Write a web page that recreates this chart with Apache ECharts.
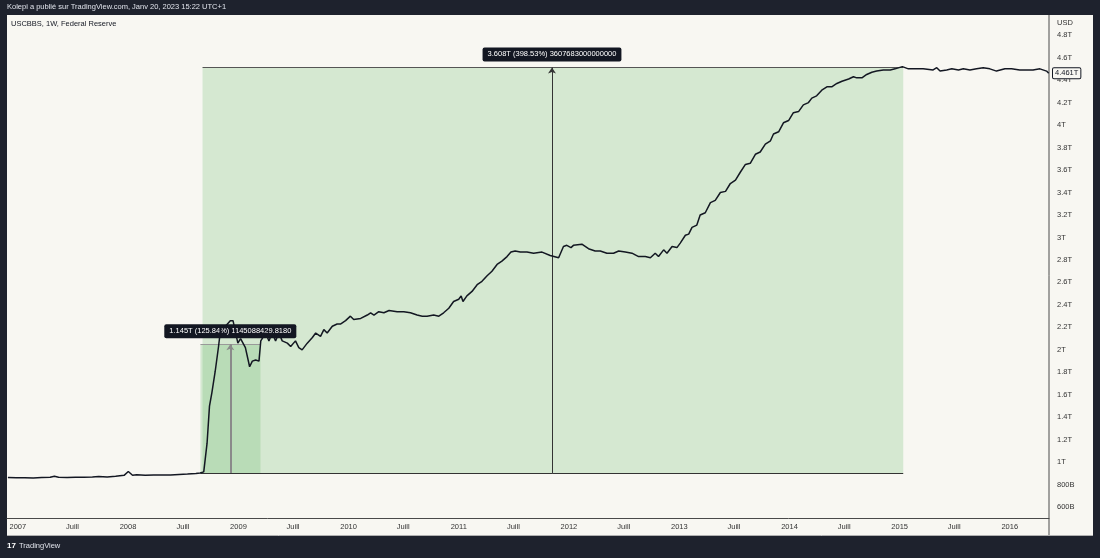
<!DOCTYPE html>
<html>
<head>
<meta charset="utf-8">
<script src="https://cdn.jsdelivr.net/npm/echarts@6/dist/echarts.min.js"></script>
<style>
  html, body { margin: 0; padding: 0; background: #1e222d; }
  #chart { width: 1100px; height: 558px; }
</style>
</head>
<body>
<div id="chart"></div>
<script>
// weekly USCBBS readings (trillions USD)
const dates = [
  '2006-11-29','2006-12-27','2007-01-24','2007-02-21','2007-03-21','2007-04-18','2007-05-02','2007-05-16',
  '2007-06-13','2007-07-11','2007-08-08','2007-09-05','2007-09-26','2007-10-24','2007-11-21','2007-12-19',
  '2008-01-02','2008-01-16','2008-01-30','2008-02-27','2008-03-26','2008-04-23','2008-05-21','2008-06-18',
  '2008-07-16','2008-08-13','2008-08-27','2008-09-08','2008-09-19','2008-09-27','2008-10-05','2008-10-16',
  '2008-10-27','2008-11-04','2008-11-15','2008-12-05','2008-12-14','2008-12-30','2009-01-08','2009-01-24',
  '2009-02-07','2009-02-16','2009-02-27','2009-03-10','2009-03-16','2009-04-01','2009-04-12','2009-04-23',
  '2009-05-04','2009-05-15','2009-05-26','2009-06-12','2009-06-23','2009-07-09','2009-07-20','2009-07-31',
  '2009-08-17','2009-09-03','2009-09-14','2009-09-30','2009-10-11','2009-10-22','2009-11-08','2009-11-24',
  '2009-12-05','2009-12-22','2010-01-07','2010-01-18','2010-02-10','2010-03-04','2010-03-15','2010-03-26',
  '2010-04-11','2010-04-28','2010-05-15','2010-06-11','2010-07-03','2010-07-25','2010-08-16','2010-09-02',
  '2010-09-18','2010-10-10','2010-10-27','2010-11-12','2010-11-29','2010-12-15','2011-01-01','2011-01-09',
  '2011-01-15','2011-01-28','2011-02-14','2011-03-03','2011-03-19','2011-04-05','2011-04-21','2011-05-08',
  '2011-05-24','2011-06-10','2011-06-23','2011-07-07','2011-07-24','2011-08-15','2011-09-06','2011-10-04',
  '2011-10-31','2011-11-28','2011-12-14','2011-12-25','2012-01-08','2012-01-16','2012-02-13','2012-02-24',
  '2012-03-06','2012-03-28','2012-04-14','2012-05-06','2012-05-28','2012-06-14','2012-07-06','2012-07-28',
  '2012-08-19','2012-09-10','2012-09-27','2012-10-13','2012-10-24','2012-11-10','2012-11-21','2012-12-08',
  '2012-12-24','2013-01-04','2013-01-21','2013-02-01','2013-02-12','2013-02-28','2013-03-11','2013-03-28',
  '2013-04-14','2013-04-30','2013-05-17','2013-06-03','2013-06-19','2013-07-06','2013-07-22','2013-08-08',
  '2013-08-24','2013-09-10','2013-09-26','2013-10-13','2013-10-30','2013-11-09','2013-11-26','2013-12-12',
  '2013-12-29','2014-01-14','2014-01-31','2014-02-16','2014-03-05','2014-03-16','2014-04-01','2014-04-18',
  '2014-05-05','2014-05-21','2014-06-07','2014-06-24','2014-07-16','2014-08-01','2014-08-12','2014-08-29',
  '2014-09-14','2014-10-01','2014-10-17','2014-11-08','2014-12-01','2014-12-17','2015-01-10','2015-01-30',
  '2015-02-15','2015-03-20','2015-04-22','2015-05-04','2015-05-15','2015-06-06','2015-06-23','2015-07-15',
  '2015-07-31','2015-08-22','2015-09-13','2015-10-05','2015-10-27','2015-11-18','2015-12-16','2016-01-07',
  '2016-02-03','2016-02-25','2016-03-18','2016-04-10','2016-05-02','2016-05-09'
];
const values = [
  0.865,0.862,0.863,0.860,0.864,0.866,0.875,0.866,
  0.864,0.866,0.866,0.870,0.874,0.870,0.875,0.884,
  0.918,0.885,0.890,0.884,0.888,0.886,0.887,0.892,
  0.895,0.900,0.905,0.915,1.17,1.50,1.62,1.81,
  2.03,2.21,2.20,2.26,2.26,2.06,2.10,2.02,
  1.85,1.90,1.91,1.90,2.08,2.15,2.08,2.15,
  2.08,2.15,2.08,2.06,2.03,2.08,2.02,2.00,
  2.06,2.11,2.15,2.12,2.18,2.15,2.21,2.23,
  2.23,2.26,2.30,2.27,2.28,2.31,2.33,2.31,
  2.34,2.33,2.35,2.34,2.34,2.33,2.31,2.30,
  2.30,2.31,2.30,2.33,2.37,2.43,2.45,2.48,
  2.43,2.48,2.52,2.58,2.61,2.66,2.70,2.76,
  2.79,2.83,2.87,2.88,2.87,2.87,2.86,2.87,
  2.84,2.82,2.92,2.93,2.91,2.93,2.94,2.92,
  2.90,2.88,2.88,2.86,2.86,2.88,2.87,2.86,
  2.83,2.83,2.82,2.86,2.83,2.89,2.86,2.92,
  2.91,2.95,3.02,3.03,3.09,3.11,3.20,3.22,
  3.31,3.33,3.40,3.41,3.48,3.51,3.58,3.65,
  3.66,3.74,3.76,3.83,3.86,3.92,3.94,4.02,
  4.04,4.11,4.12,4.18,4.20,4.24,4.26,4.31,
  4.34,4.34,4.37,4.39,4.41,4.43,4.42,4.42,
  4.45,4.47,4.48,4.49,4.49,4.50,4.52,4.50,
  4.50,4.50,4.49,4.51,4.48,4.49,4.50,4.49,
  4.50,4.49,4.50,4.51,4.50,4.48,4.50,4.50,
  4.49,4.49,4.49,4.50,4.48,4.461
];
const yTicks = [0.6,0.8,1,1.2,1.4,1.6,1.8,2,2.2,2.4,2.6,2.8,3,3.2,3.4,3.6,3.8,4,4.2,4.4,4.6,4.8];
const xTicks = ['2007-01-01','2007-07-01','2008-01-01','2008-07-01','2009-01-01','2009-07-01','2010-01-01','2010-07-01',
  '2011-01-01','2011-07-01','2012-01-01','2012-07-01','2013-01-01','2013-07-01','2014-01-01','2014-07-01',
  '2015-01-01','2015-07-01','2016-01-01'];

// measure tools (date range, price range, label)
const bigRange = { from: '2008-09-04', to: '2015-01-13', low: 0.905, high: 4.513, at: '2011-11-06',
  text: '3.608T (398.53%) 3607683000000000' };
const smallRange = { from: '2008-08-28', to: '2009-03-15', low: 0.905, high: 2.05, at: '2008-12-05',
  text: '1.145T (125.84%) 1145088429.8180' };
const lastValue = 4.461;

const FONT = 'Liberation Sans';
const ts = d => +new Date(d + 'T00:00:00Z');
const boxLabel = {
  show: true, position: 'end', distance: 6, color: '#fff', fontSize: 7.5, fontFamily: FONT,
  backgroundColor: '#131722', padding: [3, 5], borderRadius: 2
};

function fmtValue(v) {
  if (v < 1) return Math.round(v * 1000) + 'B';
  return (Math.round(v * 10) / 10) + 'T';
}

const chart = echarts.init(document.getElementById('chart'));
chart.setOption({
  backgroundColor: '#1e222d',
  animation: false,
  textStyle: { fontFamily: FONT },
  graphic: [
    { type: 'rect', z: -10, shape: { x: 7, y: 15, width: 1086, height: 521 }, style: { fill: '#f8f7f2' } },
    { type: 'text', left: 7, top: 3, style: { text: 'Kolepi a publié sur TradingView.com, Janv 20, 2023 15:22 UTC+1',
      fill: '#e0e3eb', fontSize: 7.5, fontFamily: FONT } },
    { type: 'text', left: 11, top: 20, style: { text: 'USCBBS, 1W, Federal Reserve', fill: '#131722', fontSize: 7.5, fontFamily: FONT } },
    { type: 'text', left: 1057, top: 19, style: { text: 'USD', fill: '#333', fontSize: 7.5, fontFamily: FONT } },
    { type: 'line', shape: { x1: 1049, y1: 15, x2: 1049, y2: 536 }, style: { stroke: '#4a4a4a', lineWidth: 1 } },
    { type: 'line', shape: { x1: 7, y1: 535.5, x2: 1093, y2: 535.5 }, style: { stroke: '#b0b0b0', lineWidth: 1 } },
    { type: 'text', left: 7, top: 542, style: { text: '17', fill: '#fff', fontSize: 8, fontWeight: 'bold', fontFamily: FONT } },
    { type: 'text', left: 19, top: 542, style: { text: 'TradingView', fill: '#e0e3eb', fontSize: 7.5, fontFamily: FONT } }
  ],
  grid: { left: 7, right: 51, top: 15, bottom: 40 },
  xAxis: {
    type: 'value',
    min: ts('2006-11-26'),
    max: ts('2016-05-10'),
    axisLine: { show: true, onZero: false, lineStyle: { color: '#4a4a4a', width: 1 } },
    axisTick: { show: false },
    splitLine: { show: false },
    axisLabel: {
      customValues: xTicks.map(ts),
      hideOverlap: false,
      margin: 5,
      color: '#333',
      fontSize: 7.5,
      fontFamily: FONT,
      formatter: v => {
        const d = new Date(v);
        return d.getUTCMonth() === 0 ? String(d.getUTCFullYear()) : 'Juill';
      }
    }
  },
  yAxis: {
    type: 'value',
    position: 'right',
    min: 0.5044,
    max: 4.979,
    axisLine: { show: false },
    axisTick: { show: false },
    splitLine: { show: false },
    axisLabel: {
      customValues: yTicks,
      hideOverlap: false,
      margin: 8,
      color: '#333',
      fontSize: 7.5,
      fontFamily: FONT,
      formatter: fmtValue
    }
  },
  series: [
    {
      name: 'measures',
      type: 'line',
      data: [],
      z: 1,
      silent: true,
      markArea: {
        silent: true,
        z: 1,
        itemStyle: { color: 'rgba(76,175,80,0.2)' },
        data: [
          [{ coord: [ts(bigRange.from), bigRange.low] }, { coord: [ts(bigRange.to), bigRange.high] }],
          [{ coord: [ts(smallRange.from), smallRange.low] }, { coord: [ts(smallRange.to), smallRange.high] }]
        ]
      },
      markLine: {
        silent: true,
        z: 2,
        symbol: ['none', 'none'],
        label: { show: false },
        data: [
          [{ coord: [ts(bigRange.from), bigRange.high], lineStyle: { color: '#555', width: 1, type: 'solid' } },
           { coord: [ts(bigRange.to), bigRange.high] }],
          [{ coord: [ts(bigRange.from), bigRange.low], lineStyle: { color: '#333', width: 1, type: 'solid' } },
           { coord: [ts(bigRange.to), bigRange.low] }],
          [{ coord: [ts(smallRange.from), smallRange.high], lineStyle: { color: '#999', width: 1, type: 'solid' } },
           { coord: [ts(smallRange.to), smallRange.high] }],
          [{ coord: [ts(smallRange.from), smallRange.low], lineStyle: { color: '#333', width: 1, type: 'solid' } },
           { coord: [ts(smallRange.to), smallRange.low] }],
          [{ coord: [ts(bigRange.at), bigRange.low], symbol: 'none', lineStyle: { color: '#333', width: 1, type: 'solid' },
             label: Object.assign({}, boxLabel, { formatter: bigRange.text }) },
           { coord: [ts(bigRange.at), bigRange.high], symbol: 'arrow', symbolSize: [6, 6] }],
          [{ coord: [ts(smallRange.at), smallRange.low], symbol: 'none', lineStyle: { color: '#8a8a8a', width: 2, type: 'solid' },
             label: Object.assign({}, boxLabel, { formatter: smallRange.text }) },
           { coord: [ts(smallRange.at), smallRange.high], symbol: 'arrow', symbolSize: [6, 6] }]
        ]
      }
    },
    {
      name: 'USCBBS',
      type: 'line',
      z: 5,
      clip: false,
      showSymbol: false,
      symbol: 'none',
      data: dates.map((d, i) => [ts(d), values[i]]),
      lineStyle: { color: '#131722', width: 1.5 },
      markLine: {
        silent: true,
        z: 6,
        symbol: ['none', 'none'],
        lineStyle: { color: 'rgba(0,0,0,0)', width: 0 },
        label: {
          show: true, position: 'end', distance: 4, formatter: lastValue.toFixed(3) + 'T',
          color: '#131722', fontSize: 7.5, fontFamily: FONT, backgroundColor: '#f8f7f2',
          borderColor: '#131722', borderWidth: 1, padding: [1, 2], borderRadius: 1
        },
        data: [{ yAxis: lastValue }]
      }
    }
  ]
});
</script>
</body>
</html>
